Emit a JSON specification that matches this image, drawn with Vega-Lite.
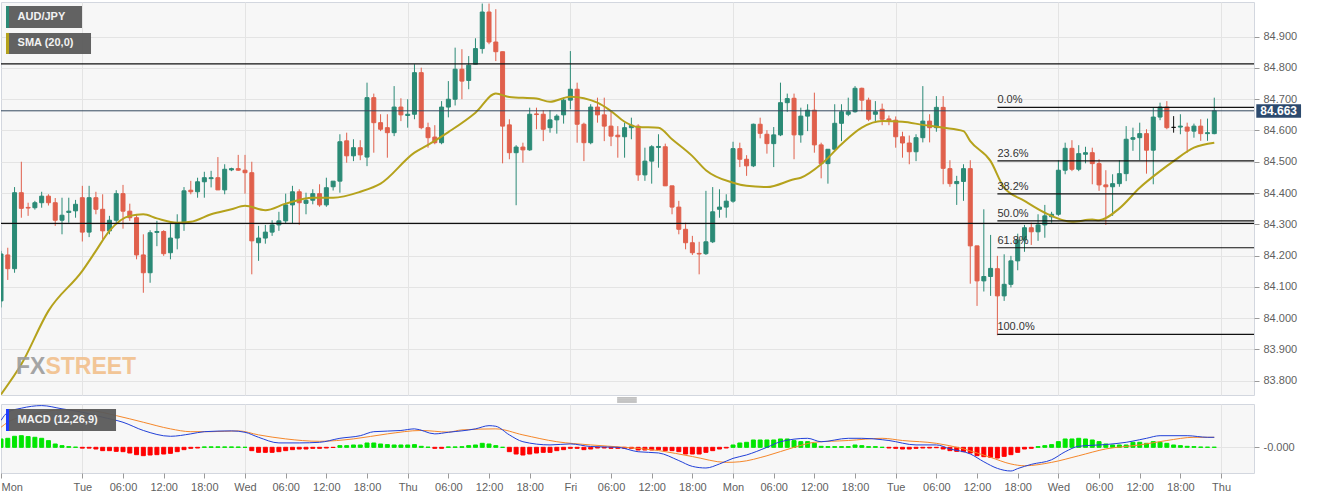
{
  "$schema": "https://vega.github.io/schema/vega-lite/v6.json",
  "background": "white",
  "padding": {"left": 0, "top": 1, "right": 0, "bottom": 0},
  "spacing": 9,
  "bounds": "flush",
  "config": {
    "view": {"stroke": "#d3d7df", "fill": "#f7f7f7"},
    "font": "Liberation Sans",
    "axis": {"labelFont": "Liberation Sans", "labelColor": "#5f5f5f", "labelFontSize": 11, "tickColor": "#9a9a9a", "tickSize": 5, "gridColor": "#e4e4e4", "domain": false, "title": null, "labelOverlap": false}
  },
  "resolve": {"scale": {"x": "independent", "y": "independent"}},
  "datasets": {
    "candles": [
      {"t":0,"o":84.055,"h":84.215,"l":84.034,"c":84.205},
      {"t":1,"o":84.202,"h":84.225,"l":84.122,"c":84.158},
      {"t":2,"o":84.158,"h":84.419,"l":84.145,"c":84.401},
      {"t":3,"o":84.401,"h":84.500,"l":84.321,"c":84.351},
      {"t":4,"o":84.354,"h":84.369,"l":84.327,"c":84.352},
      {"t":5,"o":84.353,"h":84.375,"l":84.347,"c":84.369},
      {"t":6,"o":84.369,"h":84.404,"l":84.353,"c":84.390},
      {"t":7,"o":84.390,"h":84.396,"l":84.360,"c":84.369},
      {"t":8,"o":84.369,"h":84.384,"l":84.295,"c":84.313},
      {"t":9,"o":84.313,"h":84.385,"l":84.268,"c":84.329},
      {"t":10,"o":84.338,"h":84.385,"l":84.305,"c":84.342},
      {"t":11,"o":84.343,"h":84.378,"l":84.321,"c":84.364},
      {"t":12,"o":84.385,"h":84.423,"l":84.245,"c":84.275},
      {"t":13,"o":84.275,"h":84.423,"l":84.259,"c":84.385},
      {"t":14,"o":84.385,"h":84.404,"l":84.332,"c":84.348},
      {"t":15,"o":84.348,"h":84.396,"l":84.252,"c":84.279},
      {"t":16,"o":84.279,"h":84.327,"l":84.268,"c":84.313},
      {"t":17,"o":84.313,"h":84.409,"l":84.302,"c":84.398},
      {"t":18,"o":84.398,"h":84.426,"l":84.286,"c":84.342},
      {"t":19,"o":84.342,"h":84.366,"l":84.311,"c":84.321},
      {"t":20,"o":84.321,"h":84.332,"l":84.188,"c":84.202},
      {"t":21,"o":84.202,"h":84.268,"l":84.081,"c":84.145},
      {"t":22,"o":84.145,"h":84.281,"l":84.113,"c":84.273},
      {"t":23,"o":84.274,"h":84.311,"l":84.230,"c":84.277},
      {"t":24,"o":84.277,"h":84.281,"l":84.199,"c":84.206},
      {"t":25,"o":84.209,"h":84.302,"l":84.188,"c":84.256},
      {"t":26,"o":84.256,"h":84.332,"l":84.220,"c":84.302},
      {"t":27,"o":84.302,"h":84.419,"l":84.279,"c":84.407},
      {"t":28,"o":84.409,"h":84.439,"l":84.396,"c":84.404},
      {"t":29,"o":84.404,"h":84.449,"l":84.385,"c":84.436},
      {"t":30,"o":84.436,"h":84.468,"l":84.385,"c":84.449},
      {"t":31,"o":84.446,"h":84.471,"l":84.418,"c":84.449},
      {"t":32,"o":84.449,"h":84.515,"l":84.410,"c":84.410},
      {"t":33,"o":84.410,"h":84.492,"l":84.396,"c":84.476},
      {"t":34,"o":84.474,"h":84.481,"l":84.470,"c":84.478},
      {"t":35,"o":84.478,"h":84.522,"l":84.471,"c":84.473},
      {"t":36,"o":84.473,"h":84.522,"l":84.398,"c":84.465},
      {"t":37,"o":84.465,"h":84.500,"l":84.140,"c":84.247},
      {"t":38,"o":84.241,"h":84.295,"l":84.183,"c":84.256},
      {"t":39,"o":84.256,"h":84.298,"l":84.238,"c":84.275},
      {"t":40,"o":84.275,"h":84.313,"l":84.263,"c":84.298},
      {"t":41,"o":84.298,"h":84.340,"l":84.279,"c":84.311},
      {"t":42,"o":84.311,"h":84.398,"l":84.302,"c":84.362},
      {"t":43,"o":84.362,"h":84.423,"l":84.304,"c":84.404},
      {"t":44,"o":84.404,"h":84.412,"l":84.298,"c":84.369},
      {"t":45,"o":84.367,"h":84.401,"l":84.332,"c":84.377},
      {"t":46,"o":84.377,"h":84.412,"l":84.364,"c":84.398},
      {"t":47,"o":84.398,"h":84.428,"l":84.356,"c":84.362},
      {"t":48,"o":84.362,"h":84.449,"l":84.356,"c":84.417},
      {"t":49,"o":84.420,"h":84.433,"l":84.408,"c":84.438},
      {"t":50,"o":84.438,"h":84.588,"l":84.401,"c":84.564},
      {"t":51,"o":84.567,"h":84.593,"l":84.497,"c":84.519},
      {"t":52,"o":84.519,"h":84.572,"l":84.502,"c":84.545},
      {"t":53,"o":84.545,"h":84.569,"l":84.505,"c":84.522},
      {"t":54,"o":84.515,"h":84.753,"l":84.486,"c":84.705},
      {"t":55,"o":84.705,"h":84.718,"l":84.529,"c":84.625},
      {"t":56,"o":84.625,"h":84.652,"l":84.598,"c":84.604},
      {"t":57,"o":84.609,"h":84.652,"l":84.513,"c":84.593},
      {"t":58,"o":84.593,"h":84.742,"l":84.582,"c":84.675},
      {"t":59,"o":84.675,"h":84.703,"l":84.630,"c":84.650},
      {"t":60,"o":84.648,"h":84.700,"l":84.609,"c":84.652},
      {"t":61,"o":84.652,"h":84.812,"l":84.636,"c":84.785},
      {"t":62,"o":84.785,"h":84.801,"l":84.604,"c":84.609},
      {"t":63,"o":84.609,"h":84.625,"l":84.545,"c":84.577},
      {"t":64,"o":84.579,"h":84.617,"l":84.556,"c":84.561},
      {"t":65,"o":84.561,"h":84.694,"l":84.556,"c":84.675},
      {"t":66,"o":84.675,"h":84.758,"l":84.642,"c":84.700},
      {"t":67,"o":84.700,"h":84.865,"l":84.680,"c":84.796},
      {"t":68,"o":84.796,"h":84.860,"l":84.700,"c":84.758},
      {"t":69,"o":84.760,"h":84.838,"l":84.732,"c":84.809},
      {"t":70,"o":84.812,"h":84.895,"l":84.812,"c":84.862},
      {"t":71,"o":84.862,"h":85.006,"l":84.846,"c":84.979},
      {"t":72,"o":84.979,"h":85.006,"l":84.876,"c":84.883},
      {"t":73,"o":84.883,"h":84.988,"l":84.822,"c":84.852},
      {"t":74,"o":84.852,"h":84.852,"l":84.495,"c":84.614},
      {"t":75,"o":84.618,"h":84.636,"l":84.508,"c":84.529},
      {"t":76,"o":84.529,"h":84.553,"l":84.361,"c":84.547},
      {"t":77,"o":84.547,"h":84.561,"l":84.497,"c":84.538},
      {"t":78,"o":84.538,"h":84.673,"l":84.535,"c":84.652},
      {"t":79,"o":84.653,"h":84.673,"l":84.604,"c":84.651},
      {"t":80,"o":84.652,"h":84.665,"l":84.566,"c":84.604},
      {"t":81,"o":84.609,"h":84.665,"l":84.593,"c":84.634},
      {"t":82,"o":84.634,"h":84.652,"l":84.590,"c":84.646},
      {"t":83,"o":84.650,"h":84.705,"l":84.622,"c":84.697},
      {"t":84,"o":84.697,"h":84.854,"l":84.668,"c":84.732},
      {"t":85,"o":84.732,"h":84.753,"l":84.561,"c":84.620},
      {"t":86,"o":84.620,"h":84.625,"l":84.502,"c":84.561},
      {"t":87,"o":84.561,"h":84.684,"l":84.556,"c":84.675},
      {"t":88,"o":84.675,"h":84.705,"l":84.625,"c":84.650},
      {"t":89,"o":84.650,"h":84.705,"l":84.566,"c":84.614},
      {"t":90,"o":84.614,"h":84.662,"l":84.550,"c":84.582},
      {"t":91,"o":84.585,"h":84.614,"l":84.513,"c":84.580},
      {"t":92,"o":84.580,"h":84.625,"l":84.513,"c":84.609},
      {"t":93,"o":84.609,"h":84.641,"l":84.572,"c":84.617},
      {"t":94,"o":84.614,"h":84.620,"l":84.439,"c":84.458},
      {"t":95,"o":84.458,"h":84.545,"l":84.439,"c":84.502},
      {"t":96,"o":84.502,"h":84.553,"l":84.430,"c":84.548},
      {"t":97,"o":84.546,"h":84.588,"l":84.481,"c":84.549},
      {"t":98,"o":84.548,"h":84.558,"l":84.423,"c":84.423},
      {"t":99,"o":84.423,"h":84.423,"l":84.332,"c":84.355},
      {"t":100,"o":84.355,"h":84.375,"l":84.268,"c":84.284},
      {"t":101,"o":84.284,"h":84.305,"l":84.220,"c":84.241},
      {"t":102,"o":84.241,"h":84.263,"l":84.202,"c":84.209},
      {"t":103,"o":84.207,"h":84.244,"l":84.140,"c":84.205},
      {"t":104,"o":84.206,"h":84.407,"l":84.202,"c":84.244},
      {"t":105,"o":84.244,"h":84.419,"l":84.240,"c":84.340},
      {"t":106,"o":84.348,"h":84.412,"l":84.321,"c":84.355},
      {"t":107,"o":84.355,"h":84.396,"l":84.321,"c":84.374},
      {"t":108,"o":84.374,"h":84.564,"l":84.369,"c":84.542},
      {"t":109,"o":84.542,"h":84.561,"l":84.483,"c":84.508},
      {"t":110,"o":84.508,"h":84.521,"l":84.455,"c":84.487},
      {"t":111,"o":84.487,"h":84.622,"l":84.483,"c":84.620},
      {"t":112,"o":84.620,"h":84.641,"l":84.575,"c":84.591},
      {"t":113,"o":84.588,"h":84.601,"l":84.526,"c":84.558},
      {"t":114,"o":84.558,"h":84.611,"l":84.483,"c":84.586},
      {"t":115,"o":84.586,"h":84.753,"l":84.582,"c":84.689},
      {"t":116,"o":84.689,"h":84.718,"l":84.660,"c":84.702},
      {"t":117,"o":84.703,"h":84.718,"l":84.508,"c":84.586},
      {"t":118,"o":84.586,"h":84.673,"l":84.561,"c":84.646},
      {"t":119,"o":84.646,"h":84.684,"l":84.598,"c":84.665},
      {"t":120,"o":84.665,"h":84.721,"l":84.529,"c":84.554},
      {"t":121,"o":84.554,"h":84.561,"l":84.447,"c":84.494},
      {"t":122,"o":84.494,"h":84.540,"l":84.430,"c":84.540},
      {"t":123,"o":84.540,"h":84.684,"l":84.535,"c":84.623},
      {"t":124,"o":84.623,"h":84.684,"l":84.566,"c":84.660},
      {"t":125,"o":84.652,"h":84.705,"l":84.646,"c":84.660},
      {"t":126,"o":84.660,"h":84.742,"l":84.657,"c":84.735},
      {"t":127,"o":84.735,"h":84.737,"l":84.662,"c":84.697},
      {"t":128,"o":84.697,"h":84.705,"l":84.630,"c":84.636},
      {"t":129,"o":84.652,"h":84.694,"l":84.625,"c":84.660},
      {"t":130,"o":84.668,"h":84.686,"l":84.617,"c":84.636},
      {"t":131,"o":84.637,"h":84.648,"l":84.617,"c":84.633},
      {"t":132,"o":84.633,"h":84.645,"l":84.545,"c":84.580},
      {"t":133,"o":84.580,"h":84.596,"l":84.513,"c":84.560},
      {"t":134,"o":84.560,"h":84.584,"l":84.492,"c":84.532},
      {"t":135,"o":84.532,"h":84.588,"l":84.502,"c":84.577},
      {"t":136,"o":84.577,"h":84.742,"l":84.562,"c":84.630},
      {"t":137,"o":84.630,"h":84.652,"l":84.562,"c":84.609},
      {"t":138,"o":84.609,"h":84.710,"l":84.596,"c":84.674},
      {"t":139,"o":84.674,"h":84.710,"l":84.428,"c":84.479},
      {"t":140,"o":84.478,"h":84.505,"l":84.420,"c":84.430},
      {"t":141,"o":84.430,"h":84.455,"l":84.362,"c":84.437},
      {"t":142,"o":84.437,"h":84.492,"l":84.375,"c":84.478},
      {"t":143,"o":84.478,"h":84.505,"l":84.110,"c":84.231},
      {"t":144,"o":84.231,"h":84.231,"l":84.039,"c":84.119},
      {"t":145,"o":84.119,"h":84.348,"l":84.085,"c":84.133},
      {"t":146,"o":84.133,"h":84.266,"l":84.071,"c":84.159},
      {"t":147,"o":84.158,"h":84.199,"l":83.945,"c":84.071},
      {"t":148,"o":84.071,"h":84.204,"l":84.055,"c":84.108},
      {"t":149,"o":84.108,"h":84.199,"l":84.098,"c":84.183},
      {"t":150,"o":84.183,"h":84.270,"l":84.153,"c":84.250},
      {"t":151,"o":84.250,"h":84.298,"l":84.212,"c":84.289},
      {"t":152,"o":84.289,"h":84.305,"l":84.234,"c":84.276},
      {"t":153,"o":84.276,"h":84.332,"l":84.247,"c":84.298},
      {"t":154,"o":84.298,"h":84.362,"l":84.257,"c":84.327},
      {"t":155,"o":84.324,"h":84.340,"l":84.305,"c":84.332},
      {"t":156,"o":84.332,"h":84.505,"l":84.327,"c":84.473},
      {"t":157,"o":84.473,"h":84.561,"l":84.460,"c":84.543},
      {"t":158,"o":84.543,"h":84.569,"l":84.470,"c":84.476},
      {"t":159,"o":84.476,"h":84.553,"l":84.470,"c":84.526},
      {"t":160,"o":84.524,"h":84.548,"l":84.495,"c":84.529},
      {"t":161,"o":84.529,"h":84.545,"l":84.428,"c":84.494},
      {"t":162,"o":84.494,"h":84.508,"l":84.407,"c":84.426},
      {"t":163,"o":84.426,"h":84.473,"l":84.298,"c":84.420},
      {"t":164,"o":84.420,"h":84.460,"l":84.327,"c":84.430},
      {"t":165,"o":84.430,"h":84.505,"l":84.420,"c":84.462},
      {"t":166,"o":84.462,"h":84.614,"l":84.438,"c":84.572},
      {"t":167,"o":84.572,"h":84.609,"l":84.535,"c":84.577},
      {"t":168,"o":84.577,"h":84.625,"l":84.505,"c":84.590},
      {"t":169,"o":84.590,"h":84.604,"l":84.462,"c":84.537},
      {"t":170,"o":84.537,"h":84.675,"l":84.428,"c":84.643},
      {"t":171,"o":84.643,"h":84.689,"l":84.633,"c":84.675},
      {"t":172,"o":84.675,"h":84.694,"l":84.604,"c":84.609},
      {"t":173,"o":84.610,"h":84.646,"l":84.593,"c":84.610},
      {"t":174,"o":84.611,"h":84.652,"l":84.588,"c":84.614},
      {"t":175,"o":84.611,"h":84.625,"l":84.529,"c":84.598},
      {"t":176,"o":84.598,"h":84.622,"l":84.577,"c":84.614},
      {"t":177,"o":84.614,"h":84.636,"l":84.567,"c":84.590},
      {"t":178,"o":84.590,"h":84.638,"l":84.567,"c":84.593},
      {"t":179,"o":84.590,"h":84.705,"l":84.588,"c":84.663}
    ],
    "sma": [
      {"t":0,"v":83.756},{"t":3,"v":83.852},{"t":7,"v":84.023},{"t":12,"v":84.151},{"t":14,"v":84.215},
      {"t":16,"v":84.279},{"t":19,"v":84.327},{"t":21,"v":84.332},{"t":23,"v":84.319},{"t":26,"v":84.305},
      {"t":28,"v":84.308},{"t":31,"v":84.332},{"t":34,"v":84.348},{"t":36,"v":84.359},{"t":39,"v":84.345},
      {"t":42,"v":84.366},{"t":46,"v":84.385},{"t":49,"v":84.385},{"t":53,"v":84.404},{"t":56,"v":84.430},
      {"t":61,"v":84.529},{"t":63,"v":84.554},{"t":66,"v":84.595},{"t":70,"v":84.657},{"t":73,"v":84.718},
      {"t":75,"v":84.707},{"t":79,"v":84.702},{"t":81,"v":84.692},{"t":84,"v":84.708},{"t":88,"v":84.689},
      {"t":90,"v":84.662},{"t":92,"v":84.628},{"t":94,"v":84.611},{"t":97,"v":84.609},{"t":99,"v":84.572},
      {"t":102,"v":84.518},{"t":104,"v":84.473},{"t":108,"v":84.433},{"t":110,"v":84.423},{"t":113,"v":84.419},
      {"t":117,"v":84.444},{"t":118,"v":84.449},{"t":121,"v":84.492},{"t":124,"v":84.556},{"t":127,"v":84.609},
      {"t":130,"v":84.630},{"t":133,"v":84.628},{"t":136,"v":84.618},{"t":139,"v":84.609},{"t":142,"v":84.598},
      {"t":143,"v":84.566},{"t":146,"v":84.502},{"t":148,"v":84.417},{"t":151,"v":84.375},{"t":154,"v":84.337},
      {"t":158,"v":84.308},{"t":161,"v":84.315},{"t":162,"v":84.313},{"t":165,"v":84.351},{"t":168,"v":84.417},
      {"t":171,"v":84.470},{"t":173,"v":84.502},{"t":176,"v":84.545},{"t":179,"v":84.561}
    ],
    "levels": [{"p": 84.813}, {"p": 84.303}],
    "current": [{"p": 84.663, "label": "84.663"}],
    "fib": [
      {"label": "0.0%", "p": 84.674},
      {"label": "23.6%", "p": 84.503},
      {"label": "38.2%", "p": 84.397},
      {"label": "50.0%", "p": 84.311},
      {"label": "61.8%", "p": 84.225},
      {"label": "100.0%", "p": 83.948}
    ],
    "handle": [{"v": 0.123}, {"v": 0.118}, {"v": 0.113}],
    "hist": [
      {"t":0,"v":0.0208},{"t":1,"v":0.0225},{"t":2,"v":0.0275},{"t":3,"v":0.029},{"t":4,"v":0.0267},
      {"t":5,"v":0.025},{"t":6,"v":0.0225},{"t":7,"v":0.0167},{"t":8,"v":0.0083},{"t":9,"v":0.0042},
      {"t":10,"v":0.0017},{"t":11,"v":0.0005},{"t":12,"v":-0.002},{"t":13,"v":-0.002},{"t":14,"v":-0.0042},
      {"t":15,"v":-0.0083},{"t":16,"v":-0.0083},{"t":17,"v":-0.010},{"t":18,"v":-0.0108},{"t":19,"v":-0.0142},
      {"t":20,"v":-0.0183},{"t":21,"v":-0.0208},{"t":22,"v":-0.0192},{"t":23,"v":-0.0183},{"t":24,"v":-0.0167},
      {"t":25,"v":-0.015},{"t":26,"v":-0.0108},{"t":27,"v":-0.0058},{"t":28,"v":-0.0025},{"t":29,"v":-0.0017},
      {"t":30,"v":0.001},{"t":31,"v":0.0012},{"t":32,"v":0.0012},{"t":33,"v":0.001},{"t":34,"v":0.001},
      {"t":35,"v":0.0008},{"t":36,"v":0.0},{"t":37,"v":-0.0083},{"t":38,"v":-0.0125},{"t":39,"v":-0.0125},
      {"t":40,"v":-0.0125},{"t":41,"v":-0.0108},{"t":42,"v":-0.0083},{"t":43,"v":-0.0058},{"t":44,"v":-0.0042},
      {"t":45,"v":-0.0042},{"t":46,"v":-0.0025},{"t":47,"v":-0.0025},{"t":48,"v":-0.0017},{"t":49,"v":-0.0005},
      {"t":50,"v":0.0042},{"t":51,"v":0.0042},{"t":52,"v":0.0058},{"t":53,"v":0.0058},{"t":54,"v":0.0108},
      {"t":55,"v":0.0108},{"t":56,"v":0.0083},{"t":57,"v":0.0067},{"t":58,"v":0.0058},{"t":59,"v":0.0058},
      {"t":60,"v":0.0058},{"t":61,"v":0.0067},{"t":62,"v":0.0025},{"t":63,"v":0.0005},{"t":64,"v":-0.0025},
      {"t":65,"v":-0.0025},{"t":66,"v":0.001},{"t":67,"v":0.001},{"t":68,"v":0.0015},{"t":69,"v":0.0042},
      {"t":70,"v":0.0058},{"t":71,"v":0.010},{"t":72,"v":0.0083},{"t":73,"v":0.0042},{"t":74,"v":0.0},
      {"t":75,"v":-0.0108},{"t":76,"v":-0.0167},{"t":77,"v":-0.0192},{"t":78,"v":-0.0167},{"t":79,"v":-0.0142},
      {"t":80,"v":-0.0125},{"t":81,"v":-0.0125},{"t":82,"v":-0.0083},{"t":83,"v":-0.0058},{"t":84,"v":-0.0025},
      {"t":85,"v":-0.0025},{"t":86,"v":-0.0058},{"t":87,"v":-0.0042},{"t":88,"v":-0.0017},{"t":89,"v":-0.0017},
      {"t":90,"v":-0.0025},{"t":91,"v":-0.0025},{"t":92,"v":-0.0025},{"t":93,"v":-0.0025},{"t":94,"v":-0.0067},
      {"t":95,"v":-0.0067},{"t":96,"v":-0.0067},{"t":97,"v":-0.0058},{"t":98,"v":-0.0083},{"t":99,"v":-0.0083},
      {"t":100,"v":-0.0108},{"t":101,"v":-0.0167},{"t":102,"v":-0.0167},{"t":103,"v":-0.0167},{"t":104,"v":-0.0125},
      {"t":105,"v":-0.0083},{"t":106,"v":-0.0042},{"t":107,"v":-0.0017},{"t":108,"v":0.0058},{"t":109,"v":0.0108},
      {"t":110,"v":0.0125},{"t":111,"v":0.0183},{"t":112,"v":0.0183},{"t":113,"v":0.0183},{"t":114,"v":0.0183},
      {"t":115,"v":0.0208},{"t":116,"v":0.0208},{"t":117,"v":0.0167},{"t":118,"v":0.0142},{"t":119,"v":0.0142},
      {"t":120,"v":0.010},{"t":121,"v":0.0025},{"t":122,"v":0.0017},{"t":123,"v":0.0017},{"t":124,"v":0.0017},
      {"t":125,"v":0.0017},{"t":126,"v":0.0058},{"t":127,"v":0.0042},{"t":128,"v":0.0017},{"t":129,"v":0.0017},
      {"t":130,"v":0.0},{"t":131,"v":-0.0017},{"t":132,"v":-0.0025},{"t":133,"v":-0.0042},{"t":134,"v":-0.0042},
      {"t":135,"v":-0.0025},{"t":136,"v":-0.0017},{"t":137,"v":-0.0017},{"t":138,"v":-0.001},{"t":139,"v":-0.0042},
      {"t":140,"v":-0.0083},{"t":141,"v":-0.010},{"t":142,"v":-0.0108},{"t":143,"v":-0.0142},{"t":144,"v":-0.0208},
      {"t":145,"v":-0.0233},{"t":146,"v":-0.025},{"t":147,"v":-0.0267},{"t":148,"v":-0.0225},{"t":149,"v":-0.0183},
      {"t":150,"v":-0.0125},{"t":151,"v":-0.0042},{"t":152,"v":-0.0025},{"t":153,"v":0.0017},{"t":154,"v":0.0042},
      {"t":155,"v":0.0067},{"t":156,"v":0.0142},{"t":157,"v":0.0208},{"t":158,"v":0.0208},{"t":159,"v":0.0225},
      {"t":160,"v":0.0208},{"t":161,"v":0.0183},{"t":162,"v":0.0142},{"t":163,"v":0.0083},{"t":164,"v":0.0058},
      {"t":165,"v":0.0058},{"t":166,"v":0.0058},{"t":167,"v":0.0125},{"t":168,"v":0.0125},{"t":169,"v":0.010},
      {"t":170,"v":0.0142},{"t":171,"v":0.0125},{"t":172,"v":0.010},{"t":173,"v":0.0058},{"t":174,"v":0.0042},
      {"t":175,"v":0.0025},{"t":176,"v":0.0017},{"t":177,"v":0.0008},{"t":178,"v":0.0005},{"t":179,"v":0.0003}
    ],
    "macd": [
      {"t":0,"v":0.067},{"t":1,"v":0.0875},{"t":3,"v":0.0975},{"t":6,"v":0.104},{"t":9,"v":0.096},
      {"t":12,"v":0.0875},{"t":15,"v":0.075},{"t":18,"v":0.0625},{"t":21,"v":0.042},{"t":25,"v":0.0275},
      {"t":28,"v":0.0335},{"t":30,"v":0.039},{"t":34,"v":0.041},{"t":36,"v":0.0375},{"t":38,"v":0.025},
      {"t":41,"v":0.011},{"t":44,"v":0.011},{"t":47,"v":0.0125},{"t":50,"v":0.0225},{"t":53,"v":0.029},
      {"t":55,"v":0.039},{"t":59,"v":0.042},{"t":61,"v":0.046},{"t":64,"v":0.0335},{"t":66,"v":0.0375},
      {"t":70,"v":0.046},{"t":72,"v":0.054},{"t":73,"v":0.0525},{"t":75,"v":0.031},{"t":77,"v":0.014},
      {"t":81,"v":0.006},{"t":84,"v":0.0085},{"t":87,"v":0.002},{"t":91,"v":0.0},{"t":94,"v":-0.011},
      {"t":97,"v":-0.014},{"t":100,"v":-0.033},{"t":102,"v":-0.0475},{"t":104,"v":-0.0515},{"t":106,"v":-0.0415},
      {"t":108,"v":-0.0275},{"t":110,"v":-0.019},{"t":113,"v":0.0},{"t":115,"v":0.014},{"t":119,"v":0.0225},
      {"t":121,"v":0.014},{"t":125,"v":0.0225},{"t":127,"v":0.0225},{"t":130,"v":0.019},{"t":131,"v":0.017},
      {"t":135,"v":0.006},{"t":138,"v":0.006},{"t":140,"v":-0.004},{"t":143,"v":-0.0165},{"t":145,"v":-0.036},
      {"t":147,"v":-0.0525},{"t":149,"v":-0.059},{"t":150,"v":-0.053},{"t":152,"v":-0.0425},{"t":155,"v":-0.031},
      {"t":157,"v":-0.011},{"t":159,"v":0.0025},{"t":163,"v":0.007},{"t":166,"v":0.0125},{"t":168,"v":0.019},
      {"t":169,"v":0.0225},{"t":171,"v":0.029},{"t":175,"v":0.029},{"t":178,"v":0.025},{"t":179,"v":0.025}
    ],
    "signal": [
      {"t":0,"v":0.05},{"t":1,"v":0.0625},{"t":5,"v":0.0835},{"t":9,"v":0.0935},{"t":13,"v":0.092},
      {"t":17,"v":0.079},{"t":21,"v":0.0625},{"t":25,"v":0.046},{"t":28,"v":0.039},{"t":31,"v":0.039},
      {"t":35,"v":0.041},{"t":38,"v":0.031},{"t":42,"v":0.021},{"t":47,"v":0.015},{"t":52,"v":0.021},
      {"t":57,"v":0.0335},{"t":62,"v":0.042},{"t":66,"v":0.038},{"t":68,"v":0.0435},{"t":73,"v":0.046},
      {"t":77,"v":0.031},{"t":82,"v":0.014},{"t":87,"v":0.006},{"t":92,"v":0.0},{"t":97,"v":-0.008},
      {"t":102,"v":-0.023},{"t":107,"v":-0.0375},{"t":109,"v":-0.036},{"t":113,"v":-0.021},{"t":117,"v":0.0},
      {"t":120,"v":0.0125},{"t":125,"v":0.017},{"t":130,"v":0.0225},{"t":133,"v":0.017},{"t":138,"v":0.010},
      {"t":142,"v":-0.004},{"t":146,"v":-0.025},{"t":149,"v":-0.0415},{"t":151,"v":-0.046},{"t":155,"v":-0.0375},
      {"t":159,"v":-0.021},{"t":163,"v":-0.004},{"t":168,"v":0.006},{"t":172,"v":0.017},{"t":176,"v":0.025},
      {"t":179,"v":0.025}
    ]
  },
  "vconcat": [
    {
      "width": 1253,
      "height": 393,
      "encoding": {
        "x": {"type": "quantitative", "scale": {"domain": [0, 184.86], "nice": false, "zero": false, "padding": 0},
              "axis": {"values": [12, 36, 60, 84, 108, 132, 156, 180], "labels": false, "ticks": false, "grid": true, "domain": false}}
      },
      "layer": [
        {
          "data": {"name": "candles"},
          "mark": {"type": "rule", "strokeWidth": 1, "clip": true},
          "encoding": {
            "x": {"field": "t", "type": "quantitative"},
            "y": {"field": "l", "type": "quantitative", "scale": {"domain": [83.754, 85.011], "nice": false, "zero": false, "padding": 0},
                  "axis": {"orient": "right", "values": [83.8, 83.9, 84.0, 84.1, 84.2, 84.3, 84.4, 84.5, 84.6, 84.7, 84.8, 84.9], "tickCount": 20, "format": ".3f", "grid": true, "labelPadding": 4, "labelOverlap": false, "labelBound": false, "labelFlush": false}},
            "y2": {"field": "h"},
            "color": {"condition": [{"test": "datum.c > datum.o", "value": "#2b8a76"}, {"test": "datum.c < datum.o", "value": "#e0604c"}], "value": "#111111"}
          }
        },
        {
          "data": {"name": "candles"},
          "mark": {"type": "bar", "size": 4, "strokeWidth": 1, "clip": true},
          "encoding": {
            "x": {"field": "t", "type": "quantitative"},
            "y": {"field": "o", "type": "quantitative"},
            "y2": {"field": "c"},
            "fill": {"condition": [{"test": "datum.c > datum.o", "value": "#2b8a76"}, {"test": "datum.c < datum.o", "value": "#e0604c"}], "value": "#111111"},
            "stroke": {"condition": [{"test": "datum.c > datum.o", "value": "#2b8a76"}, {"test": "datum.c < datum.o", "value": "#e0604c"}], "value": "#111111"}
          }
        },
        {
          "data": {"name": "sma"},
          "mark": {"type": "line", "color": "#b5a21c", "strokeWidth": 2, "interpolate": "monotone", "clip": true},
          "encoding": {
            "x": {"field": "t", "type": "quantitative"},
            "y": {"field": "v", "type": "quantitative"}
          }
        },
        {
          "data": {"name": "levels"},
          "mark": {"type": "rule", "color": "#111111", "strokeWidth": 1.3, "clip": true},
          "encoding": {"y": {"field": "p", "type": "quantitative"}}
        },
        {
          "data": {"name": "current"},
          "mark": {"type": "rule", "color": "#34495e", "strokeWidth": 1, "clip": true},
          "encoding": {"y": {"field": "p", "type": "quantitative"}}
        },
        {
          "data": {"name": "fib"},
          "mark": {"type": "rule", "color": "#111111", "strokeWidth": 1.2},
          "encoding": {
            "x": {"datum": 147},
            "x2": {"datum": 184.86},
            "y": {"field": "p", "type": "quantitative"}
          }
        },
        {
          "data": {"name": "fib"},
          "mark": {"type": "text", "align": "left", "baseline": "bottom", "dy": -2, "fontSize": 11, "color": "#333333", "font": "Liberation Sans"},
          "encoding": {
            "x": {"datum": 147},
            "y": {"field": "p", "type": "quantitative"},
            "text": {"field": "label"}
          }
        },
        {
          "data": {"name": "current"},
          "mark": {"type": "rect", "color": "#2c4a6e", "clip": false},
          "encoding": {
            "x": {"datum": 185.2},
            "x2": {"datum": 191.8},
            "y": {"datum": 84.684},
            "y2": {"datum": 84.641}
          }
        },
        {
          "data": {"name": "current"},
          "mark": {"type": "text", "align": "center", "baseline": "middle", "fontSize": 12, "fontWeight": "bold", "color": "white", "font": "Liberation Sans", "clip": false},
          "encoding": {
            "x": {"datum": 188.5},
            "y": {"field": "p", "type": "quantitative"},
            "text": {"field": "label"}
          }
        },
        {
          "data": {"values": [{"name": "AUD/JPY"}]},
          "mark": {"type": "rect", "color": "#5a5a5a", "opacity": 0.95},
          "encoding": {"x": {"datum": 0.74}, "x2": {"datum": 11.95}, "y": {"datum": 84.998}, "y2": {"datum": 84.928}}
        },
        {
          "data": {"values": [{"name": "AUD/JPY"}]},
          "mark": {"type": "rect", "color": "#2b8a76"},
          "encoding": {"x": {"datum": 0.74}, "x2": {"datum": 1.18}, "y": {"datum": 84.998}, "y2": {"datum": 84.928}}
        },
        {
          "data": {"values": [{"name": "AUD/JPY"}]},
          "mark": {"type": "text", "align": "left", "baseline": "middle", "fontSize": 11, "fontWeight": "bold", "color": "#f2f2f2", "font": "Liberation Sans"},
          "encoding": {"x": {"datum": 2.45}, "y": {"datum": 84.963}, "text": {"field": "name"}}
        },
        {
          "data": {"values": [{"name": "SMA (20,0)"}]},
          "mark": {"type": "rect", "color": "#5a5a5a", "opacity": 0.95},
          "encoding": {"x": {"datum": 0.74}, "x2": {"datum": 13.28}, "y": {"datum": 84.912}, "y2": {"datum": 84.845}}
        },
        {
          "data": {"values": [{"name": "SMA (20,0)"}]},
          "mark": {"type": "rect", "color": "#b5a21c"},
          "encoding": {"x": {"datum": 0.74}, "x2": {"datum": 1.18}, "y": {"datum": 84.912}, "y2": {"datum": 84.845}}
        },
        {
          "data": {"values": [{"name": "SMA (20,0)"}]},
          "mark": {"type": "text", "align": "left", "baseline": "middle", "fontSize": 11, "fontWeight": "bold", "color": "#f2f2f2", "font": "Liberation Sans"},
          "encoding": {"x": {"datum": 2.45}, "y": {"datum": 84.879}, "text": {"field": "name"}}
        },
        {
          "data": {"values": [{"name": "FX"}]},
          "mark": {"type": "text", "align": "left", "baseline": "alphabetic", "fontSize": 23, "fontWeight": "bold", "color": "#9c9c9c", "font": "Liberation Sans", "opacity": 0.9},
          "encoding": {"x": {"datum": 2.21}, "y": {"datum": 83.821}, "text": {"field": "name"}}
        },
        {
          "data": {"values": [{"name": "STREET"}]},
          "mark": {"type": "text", "align": "left", "baseline": "alphabetic", "fontSize": 23, "fontWeight": "bold", "color": "#f2c08c", "font": "Liberation Sans", "opacity": 0.9},
          "encoding": {"x": {"datum": 6.55}, "y": {"datum": 83.821}, "text": {"field": "name"}}
        }
      ]
    },
    {
      "width": 1253,
      "height": 69,
      "encoding": {
        "x": {"type": "quantitative", "scale": {"domain": [0, 184.86], "nice": false, "zero": false, "padding": 0},
              "axis": {"values": [0, 12, 18, 24, 30, 36, 42, 48, 54, 60, 66, 72, 78, 84, 90, 96, 102, 108, 114, 120, 126, 132, 138, 144, 150, 156, 162, 168, 174, 180],
                       "tickCount": 40,
                       "labelExpr": "datum.value == 0 ? 'Mon' : ((datum.value - 12) % 24 == 0 ? ['Tue','Wed','Thu','Fri','Mon','Tue','Wed','Thu'][(datum.value - 12) / 24] : ((datum.value - 12) % 24 == 6 ? '06:00' : ((datum.value - 12) % 24 == 12 ? '12:00' : '18:00')))",
                       "labelAlign": {"condition": {"test": "datum.value == 0", "value": "left"}, "value": "center"},
                       "labelPadding": 3, "grid": true, "labelOverlap": false,
                       "gridColor": {"condition": {"test": "datum.value > 0 && (datum.value - 12) % 24 == 0", "value": "#e4e4e4"}, "value": "transparent"}}}
      },
      "layer": [
        {
          "data": {"name": "hist"},
          "mark": {"type": "bar", "size": 4, "strokeWidth": 1, "clip": true},
          "encoding": {
            "x": {"field": "t", "type": "quantitative"},
            "y": {"field": "v", "type": "quantitative", "scale": {"domain": [-0.064, 0.108], "nice": false, "zero": false, "padding": 0},
                  "axis": {"orient": "right", "values": [0], "labelExpr": "'-0.000'", "grid": true, "labelPadding": 4}},
            "y2": {"datum": 0},
            "fill": {"condition": {"test": "datum.v >= 0", "value": "#00e600"}, "value": "#ff0000"},
            "stroke": {"condition": {"test": "datum.v >= 0", "value": "#00e600"}, "value": "#ff0000"}
          }
        },
        {
          "data": {"name": "signal"},
          "mark": {"type": "line", "color": "#f5872a", "strokeWidth": 1, "interpolate": "monotone", "clip": true},
          "encoding": {"x": {"field": "t", "type": "quantitative"}, "y": {"field": "v", "type": "quantitative"}}
        },
        {
          "data": {"name": "macd"},
          "mark": {"type": "line", "color": "#2140d8", "strokeWidth": 1, "interpolate": "monotone", "clip": true},
          "encoding": {"x": {"field": "t", "type": "quantitative"}, "y": {"field": "v", "type": "quantitative"}}
        },
        {
          "data": {"name": "handle"},
          "mark": {"type": "rule", "color": "#8a8a8a", "strokeWidth": 1, "clip": false},
          "encoding": {"x": {"datum": 90.9}, "x2": {"datum": 93.8}, "y": {"field": "v", "type": "quantitative"}}
        },
        {
          "data": {"values": [{"name": "MACD (12,26,9)"}]},
          "mark": {"type": "rect", "color": "#5a5a5a", "opacity": 0.95},
          "encoding": {"x": {"datum": 0.74}, "x2": {"datum": 16.97}, "y": {"datum": 0.0955}, "y2": {"datum": 0.0407}}
        },
        {
          "data": {"values": [{"name": "MACD (12,26,9)"}]},
          "mark": {"type": "rect", "color": "#1e3cff"},
          "encoding": {"x": {"datum": 0.74}, "x2": {"datum": 1.18}, "y": {"datum": 0.0955}, "y2": {"datum": 0.0407}}
        },
        {
          "data": {"values": [{"name": "MACD (12,26,9)"}]},
          "mark": {"type": "text", "align": "left", "baseline": "middle", "fontSize": 11, "fontWeight": "bold", "color": "#f2f2f2", "font": "Liberation Sans"},
          "encoding": {"x": {"datum": 2.45}, "y": {"datum": 0.0681}, "text": {"field": "name"}}
        }
      ]
    }
  ]
}
